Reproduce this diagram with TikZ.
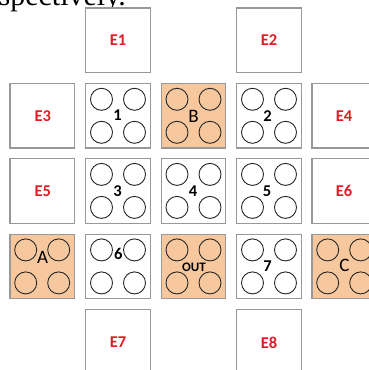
\documentclass[tikz,border=0pt]{standalone}
\usepackage{fontspec}
\setmainfont{Liberation Serif}
\newfontfamily\labfont{Carlito}
\definecolor{boxgray}{RGB}{152,152,152}
\definecolor{labred}{RGB}{225,28,36}
\definecolor{peach}{RGB}{247,200,158}
\newcommand\drawholes[1]{%
  \foreach \dx in {-16.5,16.5}{\foreach \dy in {-16.5,16.5}{%
    \draw[hole] ([shift={(\dx,\dy)}]#1.center) circle[radius=11];}}}
\begin{document}
\begin{tikzpicture}[x=1pt,y=-1pt,
  cell/.style={draw=boxgray, line width=1.2pt, minimum width=64.5pt, minimum height=64.5pt, inner sep=0pt, fill=white},
  hot/.style={cell, fill=peach},
  elab/.style={font=\labfont\bfseries\fontsize{16.5}{16.5}\selectfont, text=labred, inner sep=0pt},
  nlab/.style={font=\labfont\bfseries\fontsize{16.5}{16.5}\selectfont, inner sep=0pt},
  llab/.style={font=\labfont\fontsize{19}{19}\selectfont, inner sep=0pt},
  olab/.style={font=\labfont\bfseries\fontsize{13}{13}\selectfont, inner sep=0pt},
  hole/.style={draw=black!85, line width=0.9pt}]
\useasboundingbox (0,0) rectangle (369,370);
\clip (0,0) rectangle (369,370);
\node[anchor=base east, font=\fontsize{30}{30}\selectfont, inner sep=0pt] (cap) at (126,5.5) {spectively.};
% empty boxes
\node[cell] (e1) at (118,40.3) {};
\node[cell] (e2) at (269,40.3) {};
\node[cell] (e3) at (42.2,115.8) {};
\node[cell] (e4) at (344.2,115.8) {};
\node[cell] (e5) at (42.2,190.9) {};
\node[cell] (e6) at (344.2,190.9) {};
\node[cell] (e7) at (118,341.8) {};
\node[cell] (e8) at (269,341.8) {};
% well boxes
\node[cell] (b1) at (118,115.8) {};
\node[hot]  (bB) at (193.5,115.8) {};
\node[cell] (b2) at (269,115.8) {};
\node[cell] (b3) at (118,190.9) {};
\node[cell] (b4) at (193.5,190.9) {};
\node[cell] (b5) at (269,190.9) {};
\node[hot]  (bA) at (42.2,266.4) {};
\node[cell] (b6) at (118,266.4) {};
\node[hot]  (bO) at (193.5,266.4) {};
\node[cell] (b7) at (269,266.4) {};
\node[hot]  (bC) at (344.2,266.4) {};
\foreach \b in {b1,bB,b2,b3,b4,b5,bA,b6,bO,b7,bC}{\drawholes{\b}}
% labels
\node[elab] (t1) at (118,40.5) {E1};
\node[elab] (t2) at (269,40.5) {E2};
\node[elab] (t3) at (42.8,116.2) {E3};
\node[elab] (t4) at (344,116.2) {E4};
\node[elab] (t5) at (42.8,191.2) {E5};
\node[elab] (t6) at (344,191.2) {E6};
\node[elab] (t7) at (118,342.5) {E7};
\node[elab] (t8) at (269,342.5) {E8};
\node[nlab] (n1) at (117.5,115.5) {1};
\node[llab] (nB) at (193.5,116) {B};
\node[nlab] (n2) at (267.5,116) {2};
\node[nlab] (n3) at (117.5,191) {3};
\node[nlab] (n4) at (193,191) {4};
\node[nlab] (n5) at (267,191) {5};
\node[llab] (nA) at (42.5,257.5) {A};
\node[nlab] (n6) at (118.3,253.5) {6};
\node[olab] (nO) at (194,267) {OUT};
\node[nlab] (n7) at (267.5,266) {7};
\node[llab] (nC) at (344.5,265.5) {C};
\end{tikzpicture}
\end{document}
